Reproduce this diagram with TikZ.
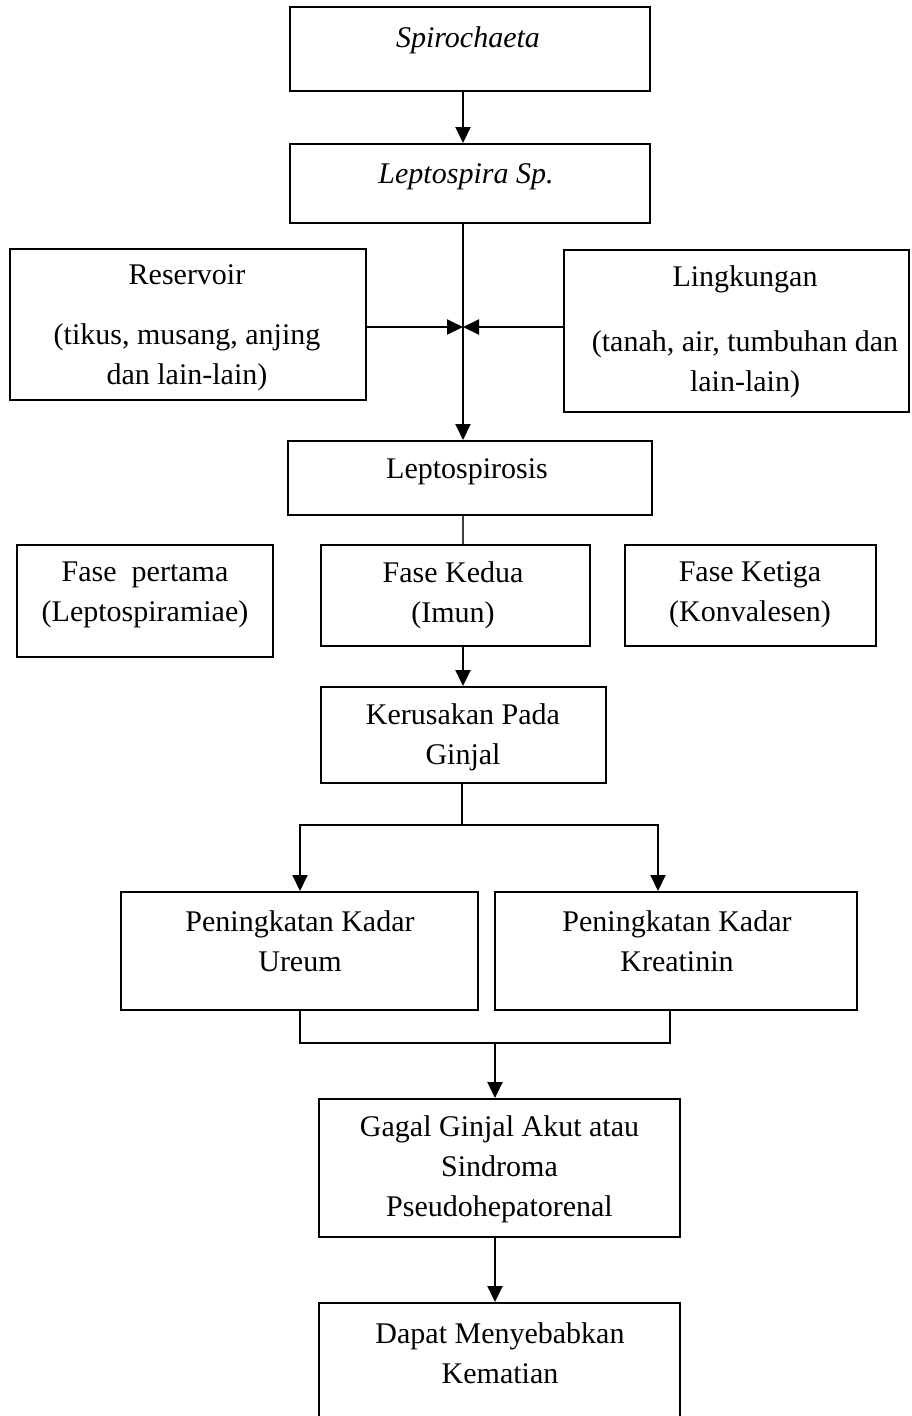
\documentclass[tikz,border=0pt]{standalone}
\usepackage{fontspec}
\setmainfont{Liberation Serif}
\usetikzlibrary{arrows.meta}
\tikzset{
  boxnode/.style={draw=black, line width=2pt, rectangle, inner sep=0pt},
  txt/.style={font=\fontsize{30}{40}\selectfont, align=center, inner sep=0pt},
  arr/.style={draw=black, line width=2pt, -{Triangle[length=16pt,width=15pt]}},
  conn/.style={draw=black, line width=2pt},
  thinconn/.style={draw=black!75, line width=1.2pt}
}
\begin{document}
\begin{tikzpicture}[x=1pt,y=-1pt]
\useasboundingbox (0,0) rectangle (911,1416);
\clip (0,0) rectangle (911,1416);
\fill[white] (0,0) rectangle (911,1416);

% boxes
\node[boxnode, minimum width=360pt, minimum height=84pt] (spiro) at (470,49) {};
\node[boxnode, minimum width=360pt, minimum height=79pt] (lepto) at (470,183.5) {};
\node[boxnode, minimum width=356pt, minimum height=151pt] (reserv) at (188,324.5) {};
\node[boxnode, minimum width=345pt, minimum height=162pt] (lingk) at (736.5,331) {};
\node[boxnode, minimum width=364pt, minimum height=74pt] (lsis) at (470,478) {};
\node[boxnode, minimum width=256pt, minimum height=112pt] (fase1) at (145,601) {};
\node[boxnode, minimum width=269pt, minimum height=101pt] (fase2) at (455.5,595.5) {};
\node[boxnode, minimum width=251pt, minimum height=101pt] (fase3) at (750.5,595.5) {};
\node[boxnode, minimum width=285pt, minimum height=96pt] (kerus) at (463.5,735) {};
\node[boxnode, minimum width=357pt, minimum height=118pt] (ureum) at (299.5,951) {};
\node[boxnode, minimum width=362pt, minimum height=118pt] (kreat) at (676,951) {};
\node[boxnode, minimum width=361pt, minimum height=138pt] (gagal) at (499.5,1168) {};
\node[boxnode, minimum width=361pt, minimum height=120pt] (dapat) at (499.5,1363) {};

% texts
\node[txt] (t-spiro) at (468,40) {\textit{Spirochaeta}};
\node[txt] (t-lepto) at (466,177) {\textit{Leptospira Sp.}};
\node[txt] (t-reserv) at (187,328) {Reservoir\\[20pt](tikus, musang, anjing\\dan lain-lain)};
\node[txt] (t-lingk) at (745,332) {Lingkungan\\[25pt](tanah, air, tumbuhan dan\\lain-lain)};
\node[txt] (t-lsis) at (467,472) {Leptospirosis};
\node[txt] (t-fase1) at (145,595) {Fase~~pertama\\(Leptospiramiae)};
\node[txt] (t-fase2) at (453,595) {Fase Kedua\\(Imun)};
\node[txt] (t-fase3) at (750,595) {Fase Ketiga\\(Konvalesen)};
\node[txt] (t-kerus) at (463,737) {Kerusakan Pada\\Ginjal};
\node[txt] (t-ureum) at (300,941) {Peningkatan Kadar\\Ureum};
\node[txt] (t-kreat) at (677,941) {Peningkatan Kadar\\Kreatinin};
\node[txt] (t-gagal) at (499.5,1169) {Gagal Ginjal Akut atau\\Sindroma\\Pseudohepatorenal};
\node[txt] (t-dapat) at (500,1353) {Dapat Menyebabkan\\Kematian};

% helper coordinates
\coordinate (sp) at (463,0);
\coordinate (jn) at (463,327);
\coordinate (br) at (462,825);
\coordinate (bl) at (300,825);
\coordinate (brr) at (658,825);
\coordinate (ml) at (300,1043);
\coordinate (mr) at (670,1043);
\coordinate (mm) at (495,1043);

% connectors
\draw[arr] (sp |- spiro.south) -- (sp |- lepto.north);
\draw[arr] (sp |- lepto.south) -- (sp |- lsis.north);
\draw[arr] (reserv.east |- jn) -- (jn);
\draw[arr] (lingk.west |- jn) -- (jn);
\draw[thinconn] (sp |- lsis.south) -- (sp |- fase2.north);
\draw[arr] (sp |- fase2.south) -- (sp |- kerus.north);
\draw[conn] (br |- kerus.south) -- (br);
\draw[arr] (br) -| (bl |- ureum.north);
\draw[arr] (br) -| (brr |- kreat.north);
\draw[conn] (ml |- ureum.south) -- (ml) -- (mr) -- (mr |- kreat.south);
\draw[arr] (mm) -- (mm |- gagal.north);
\draw[arr] (mm |- gagal.south) -- (mm |- dapat.north);
\end{tikzpicture}
\end{document}
